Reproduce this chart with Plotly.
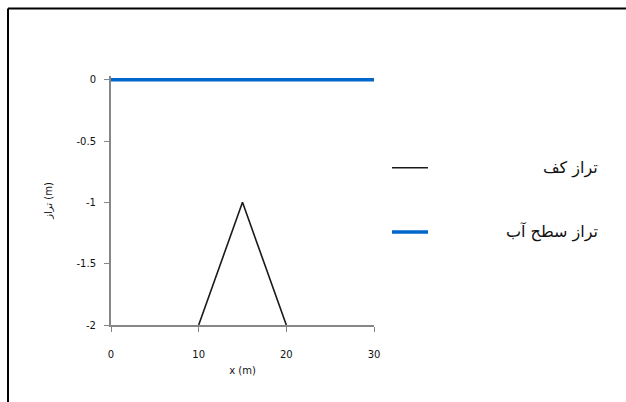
import plotly.graph_objects as go

# Bed profile (triangular bump) and water surface
bed_x = [10, 15, 20]
bed_y = [-2, -1, -2]
ws_x = [0, 30]
ws_y = [0, 0]

x_ticks = [0, 10, 20, 30]
y_ticks = [0, -0.5, -1, -1.5, -2]
y_tick_text = ["0", "-0.5", "-1", "-1.5", "-2"]

bed_name = "تراز کف"
ws_name = "تراز سطح آب"

# Plot-area geometry in pixels
W, H = 626, 402
PX0, PX1 = 111, 374          # x = 0 .. 30
PY0, PY2 = 80, 325           # y = 0 .. -2
Y_TOP = 0.03                 # small headroom so the thick surface line is not clipped
px_per_unit = (PY2 - PY0) / 2.0
top_px = PY0 - Y_TOP * px_per_unit
plot_h = PY2 - top_px

fig = go.Figure()
fig.add_trace(go.Scatter(x=bed_x, y=bed_y, mode="lines", name=bed_name,
                         line=dict(color="#1a1a1a", width=1.6), showlegend=False))
fig.add_trace(go.Scatter(x=ws_x, y=ws_y, mode="lines", name=ws_name,
                         line=dict(color="#0066CC", width=3.5), showlegend=False))

axis_font = dict(family="DejaVu Sans", size=10, color="#111")

fig.update_layout(
    width=W, height=H,
    margin=dict(l=PX0, r=W - PX1, t=top_px, b=H - PY2),
    paper_bgcolor="white", plot_bgcolor="white",
    xaxis=dict(range=[0, 30], tickvals=x_ticks, ticks="outside", ticklen=5,
               tickcolor="#868686", showline=True, linecolor="#868686", linewidth=2,
               showgrid=False, zeroline=False, tickfont=axis_font,
               ticklabelstandoff=14,
               title=dict(text="x (m)", font=dict(family="DejaVu Sans", size=10, color="#111"),
                          standoff=8)),
    yaxis=dict(range=[-2, Y_TOP], tickvals=y_ticks, ticktext=y_tick_text, ticks="outside",
               ticklen=5, tickcolor="#868686", showline=True, linecolor="#868686",
               linewidth=2, showgrid=False, zeroline=False, tickfont=axis_font,
               ticklabelstandoff=6,
               title=dict(text="تراز (m)", font=dict(family="DejaVu Sans", size=10, color="#111"),
                          standoff=22)),
)


def ypaper(ypix):
    return 1 - (ypix - top_px) / plot_h


def xpaper(xpix):
    return (xpix - PX0) / (PX1 - PX0)


# Legend drawn as line samples with right-aligned labels
legend_items = [(bed_name, "#1a1a1a", 1.6, 168), (ws_name, "#0066CC", 3.5, 232)]
for name, color, width, ypix in legend_items:
    yp = ypaper(ypix)
    fig.add_shape(type="line", xref="paper", yref="paper", x0=xpaper(392), x1=xpaper(428),
                  y0=yp, y1=yp, line=dict(color=color, width=width))
    fig.add_annotation(xref="paper", yref="paper", x=xpaper(600), y=yp,
                       text=name, showarrow=False, xanchor="right", yanchor="middle",
                       font=dict(family="DejaVu Sans", size=16, color="#111"))

# Chart frame (left and top edges)
fig.add_shape(type="line", xref="paper", yref="paper", x0=xpaper(8), x1=xpaper(8),
              y0=ypaper(H + 5), y1=ypaper(9), line=dict(color="black", width=2))
fig.add_shape(type="line", xref="paper", yref="paper", x0=xpaper(8), x1=xpaper(640),
              y0=ypaper(9), y1=ypaper(9), line=dict(color="black", width=2))

fig.write_html("out.html")
